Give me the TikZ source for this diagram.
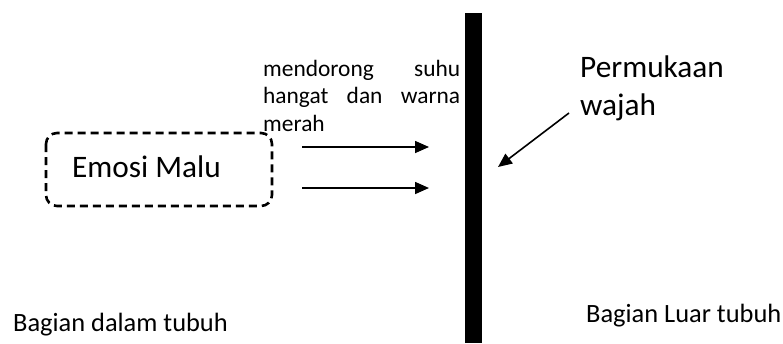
\documentclass[tikz,border=0pt]{standalone}
\usepackage{fontspec}
\setmainfont{Carlito}
\usetikzlibrary{arrows.meta}
\begin{document}
\begin{tikzpicture}[x=1pt,y=-1pt,
  txt/.style={inner sep=0pt,anchor=base west},
  big/.style={font=\fontsize{31.3}{36}\selectfont},
  small/.style={font=\fontsize{26.4}{30}\selectfont},
  arr/.style={line width=1.6pt,-{Triangle[length=14pt,width=12pt]}},
  dbox/.style={draw,line width=2.6pt,dash pattern=on 8pt off 5pt,rounded corners=11pt}]
\useasboundingbox (0,0) rectangle (783,343);
% separator bar
\fill (465,13) rectangle (482,343);
% dashed box
\draw[dbox] (46,133) rectangle (272,206);
\node[txt,big] (emosi) at (72,177) {Emosi Malu};
% paragraph
\node[inner sep=0pt,anchor=north west,text width=197pt,align=justify,
  font=\fontsize{23.4}{27.5}\selectfont] (para) at (263,60)
  {mendorong suhu hangat dan warna merah};
% labels
\node[txt,big] (perm) at (580,77) {Permukaan};
\node[txt,big] (wajah) at (580,115) {wajah};
\node[txt,small] (dalam) at (13,331) {Bagian dalam tubuh};
\node[txt,small] (luar) at (586,322) {Bagian Luar tubuh};
% arrows
\coordinate (a1s) at (302,147);
\coordinate (a1e) at (429,147);
\coordinate (a2s) at (302,188);
\coordinate (a2e) at (429,188);
\coordinate (ds) at (569,113);
\coordinate (de) at (498,167);
\draw[arr] (a1s) -- (a1e);
\draw[arr] (a2s) -- (a2e);
\draw[arr] (ds) -- (de);
\end{tikzpicture}
\end{document}
